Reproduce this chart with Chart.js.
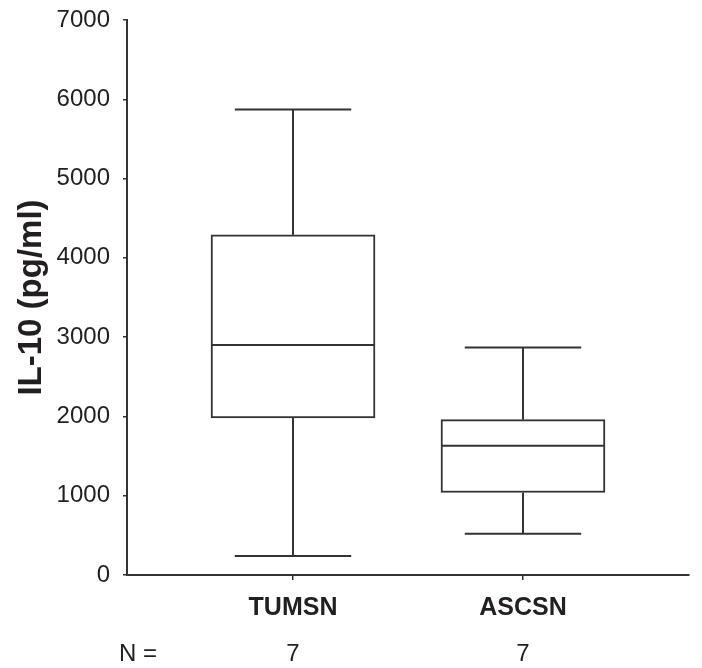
<!DOCTYPE html>
<html>
<head>
<meta charset="utf-8">
<script src="https://cdn.jsdelivr.net/npm/chart.js@4"></script>
<style>
  html, body { margin: 0; padding: 0; background: #fff; }
  #wrap { width: 702px; height: 668px; }
</style>
</head>
<body>
<div id="wrap"><canvas id="chart" width="702" height="668"></canvas></div>
<script>
// --- DATA ---
const groups = ['TUMSN', 'ASCSN'];
const mins = [240, 520];
const q1s = [1980, 1040];
const medians = [2900, 1630];
const q3s = [4290, 1960];
const maxes = [5870, 2870];
const counts = [7, 7];
const yTicks = [0, 1000, 2000, 3000, 4000, 5000, 6000, 7000];

const INK = '#333333';
const TEXT = '#231f20';
const FONT = "'Liberation Sans', Arial, sans-serif";

// whiskers, median lines and the N row
const boxExtras = {
    id: 'boxExtras',
    afterDatasetsDraw(chart) {
        const { ctx, scales: { x, y } } = chart;
        ctx.save();
        ctx.strokeStyle = INK;
        ctx.lineWidth = 2;
        const meta = chart.getDatasetMeta(0);
        groups.forEach((g, i) => {
            const cx = x.getPixelForValue(i + 1);
            const half = meta.data[i].width / 2;
            const cap = half * 0.71;
            const line = (x1, y1, x2, y2) => {
                ctx.beginPath(); ctx.moveTo(x1, y1); ctx.lineTo(x2, y2); ctx.stroke();
            };
            line(cx, y.getPixelForValue(q3s[i]), cx, y.getPixelForValue(maxes[i]));
            line(cx, y.getPixelForValue(q1s[i]), cx, y.getPixelForValue(mins[i]));
            line(cx - cap, y.getPixelForValue(maxes[i]), cx + cap, y.getPixelForValue(maxes[i]));
            line(cx - cap, y.getPixelForValue(mins[i]), cx + cap, y.getPixelForValue(mins[i]));
            line(cx - half, y.getPixelForValue(medians[i]), cx + half, y.getPixelForValue(medians[i]));
        });
        ctx.fillStyle = TEXT;
        ctx.font = '24px ' + FONT;
        ctx.textAlign = 'center';
        ctx.textBaseline = 'alphabetic';
        ctx.fillText('N =', 138, 661);
        counts.forEach((n, i) => ctx.fillText(String(n), x.getPixelForValue(i + 1), 661));
        ctx.restore();
    }
};

new Chart(document.getElementById('chart').getContext('2d'), {
    type: 'bar',
    data: {
        datasets: [{
            data: groups.map((g, i) => ({ x: i + 1, y: [q1s[i], q3s[i]] })),
            backgroundColor: '#ffffff',
            borderColor: INK,
            borderWidth: 2,
            borderSkipped: false,
            barThickness: 164
        }]
    },
    options: {
        responsive: false,
        animation: false,
        layout: { padding: { top: 20, right: 13, left: 0, bottom: 0 } },
        plugins: { legend: { display: false }, tooltip: { enabled: false } },
        scales: {
            x: {
                type: 'linear',
                offset: false,
                min: 0.278,
                max: 2.722,
                afterBuildTicks: (s) => { s.ticks = groups.map((g, i) => ({ value: i + 1 })); },
                afterFit: (s) => { s.height = 93; s.paddingLeft = 0; s.paddingRight = 0; },
                grid: { offset: false, drawOnChartArea: false, color: INK, lineWidth: 1.5, tickLength: 5 },
                border: { color: INK, width: 2 },
                ticks: {
                    color: TEXT,
                    font: { family: FONT, size: 25, weight: 'bold' },
                    padding: 13,
                    maxRotation: 0,
                    callback: (v) => groups[v - 1] || ''
                }
            },
            y: {
                min: 0,
                max: 7000,
                afterBuildTicks: (s) => { s.ticks = yTicks.map(v => ({ value: v })); },
                afterFit: (s) => { s.width = 127; s.paddingTop = 0; s.paddingBottom = 0; },
                grid: { drawOnChartArea: false, color: INK, lineWidth: 1.5, tickLength: 4 },
                border: { color: INK, width: 2 },
                ticks: {
                    color: TEXT,
                    font: { family: FONT, size: 24 },
                    padding: 13,
                    callback: (v) => String(v)
                },
                title: {
                    display: true,
                    text: 'IL-10 (pg/ml)',
                    color: TEXT,
                    font: { family: FONT, size: 33, weight: 'bold' },
                    padding: { top: 12, bottom: 0 }
                }
            }
        }
    },
    plugins: [boxExtras]
});
</script>
</body>
</html>
